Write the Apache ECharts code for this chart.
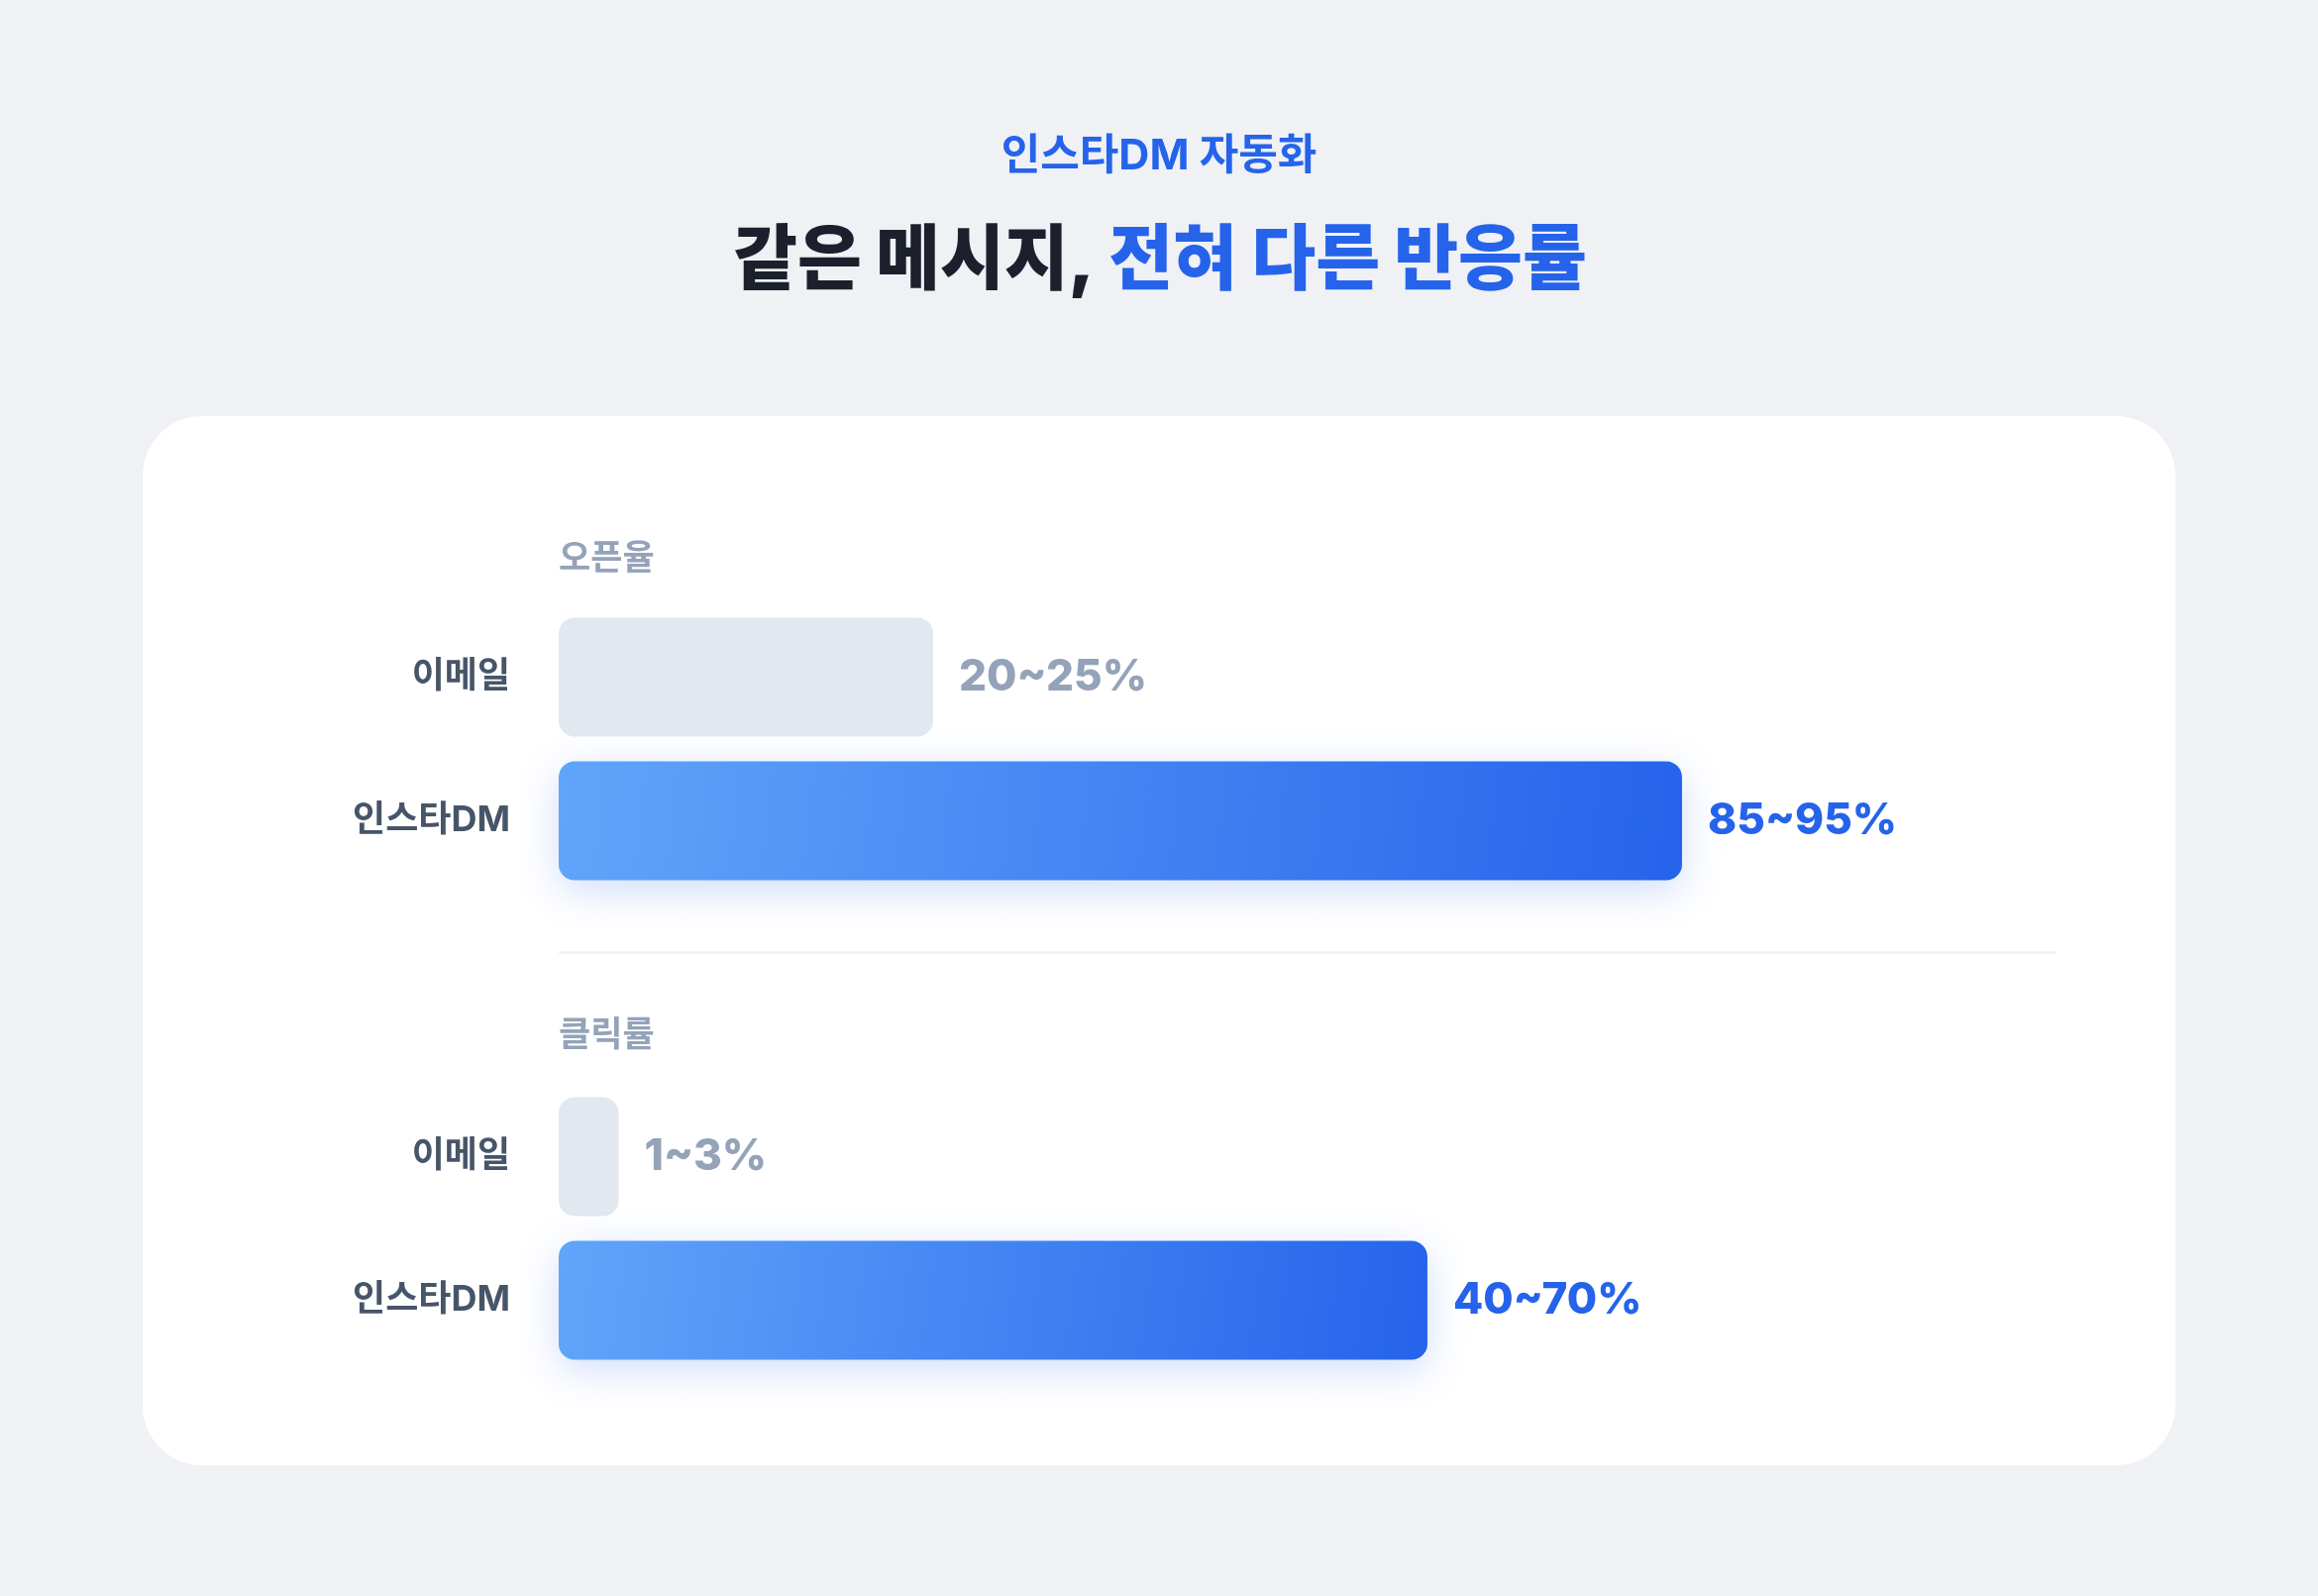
<!DOCTYPE html>
<html><head><meta charset="utf-8">
<script src="https://cdn.jsdelivr.net/npm/echarts@6/dist/echarts.min.js"></script>
<style>html,body{margin:0;padding:0;background:#eff1f4}#c{width:2340px;height:1611px}</style>
</head><body><div id="c"></div>
<script>
// ---- data ----
const channels = ['이메일', '인스타DM'];
const sectionNames = ['오픈율', '클릭률'];
const openBarLength = [25, 75];      // bar length, % of track
const clickBarLength = [4, 58];      // bar length, % of track
const openLabels = ['20~25%', '85~95%'];
const clickLabels = ['1~3%', '40~70%'];
const kicker = '인스타DM 자동화';
const headlineDark = '같은 메시지, ';
const headlineBlue = '전혀 다른 반응률';

// ---- styles ----
const FONT = "Inter, 'Noto Sans CJK KR', sans-serif";
const BLUE = '#2563eb';
const GREY_BAR = '#e2e8f0';
const GREY_TXT = '#94a3b8';

function measure(text, font) {
  const ctx = document.createElement('canvas').getContext('2d');
  ctx.font = font;
  return ctx.measureText(text).width;
}
const titleSize = 72;
const titleFont = `900 ${titleSize}px ${FONT}`;
const titleW = measure(headlineDark + headlineBlue, titleFont);
const titleTarget = 862;
const titleScale = titleTarget / titleW;

const chart = echarts.init(document.getElementById('c'));

function grad() {
  return new echarts.graphic.LinearGradient(0, 0, 1, 1, [
    { offset: 0, color: '#60a5fa' },
    { offset: 1, color: '#2563eb' }
  ]);
}

function makeSeries(idx, values, labels) {
  return {
    type: 'bar',
    xAxisIndex: idx, yAxisIndex: idx,
    barWidth: 120,
    z: 3,
    data: values.map((v, i) => {
      const isInsta = i === 1;
      return {
        value: v,
        itemStyle: isInsta ? {
          color: grad(), borderRadius: 16,
          shadowBlur: 40, shadowColor: 'rgba(37,99,235,0.22)', shadowOffsetY: 10
        } : { color: GREY_BAR, borderRadius: 16 },
        label: {
          show: true, position: 'right', distance: 26,
          formatter: labels[i],
          color: isInsta ? BLUE : GREY_TXT,
          fontFamily: FONT, fontWeight: 800, fontSize: 44,
          padding: [6, 0, 0, 0]
        }
      };
    }),
    silent: true
  };
}

const gridLeft = 564, gridRight = 2340 - 2076;
const grids = [
  { left: gridLeft, right: gridRight, top: 611, height: 290 },
  { left: gridLeft, right: gridRight, top: 1095, height: 290 }
];

const yAxisBase = (idx) => ({
  type: 'category', gridIndex: idx, data: channels, inverse: true,
  axisLine: { show: false }, axisTick: { show: false }, splitLine: { show: false },
  axisLabel: { margin: 49, color: '#475569', fontFamily: FONT, fontWeight: 'bold', fontSize: 36,
               padding: [9, 0, 0, 0] }
});
const xAxisBase = (idx) => ({
  type: 'value', gridIndex: idx, min: 0, max: 100, show: false
});

chart.setOption({
  backgroundColor: '#eff1f4',
  animation: false,
  grid: grids,
  xAxis: [xAxisBase(0), xAxisBase(1)],
  yAxis: [yAxisBase(0), yAxisBase(1)],
  graphic: [
    { type: 'rect', z: -10, shape: { x: 144, y: 420, width: 2052, height: 1059, r: 60 },
      style: { fill: '#ffffff' }, silent: true },
    { type: 'rect', z: -9, shape: { x: 564, y: 960, width: 1512, height: 3 },
      style: { fill: '#f1f5f9' }, silent: true },
    { type: 'text', x: 1170, y: 158, silent: true,
      style: { text: kicker, fill: BLUE, font: `bold 43px ${FONT}`, align: 'center', verticalAlign: 'middle' } },
    { type: 'text', x: 1171 - titleTarget / 2, y: 264, scaleX: titleScale, silent: true,
      style: {
        text: `{a|${headlineDark}}{b|${headlineBlue}}`,
        align: 'left', verticalAlign: 'middle',
        rich: {
          a: { fill: '#1b202c', font: titleFont },
          b: { fill: BLUE, font: titleFont }
        }
      } },
    { type: 'text', x: 564, y: 564, silent: true,
      style: { text: sectionNames[0], fill: GREY_TXT, font: `bold 35px ${FONT}`, align: 'left', verticalAlign: 'middle' } },
    { type: 'text', x: 564, y: 1045, silent: true,
      style: { text: sectionNames[1], fill: GREY_TXT, font: `bold 35px ${FONT}`, align: 'left', verticalAlign: 'middle' } }
  ],
  series: [
    makeSeries(0, openBarLength, openLabels),
    makeSeries(1, clickBarLength, clickLabels)
  ]
});
</script>
</body></html>
